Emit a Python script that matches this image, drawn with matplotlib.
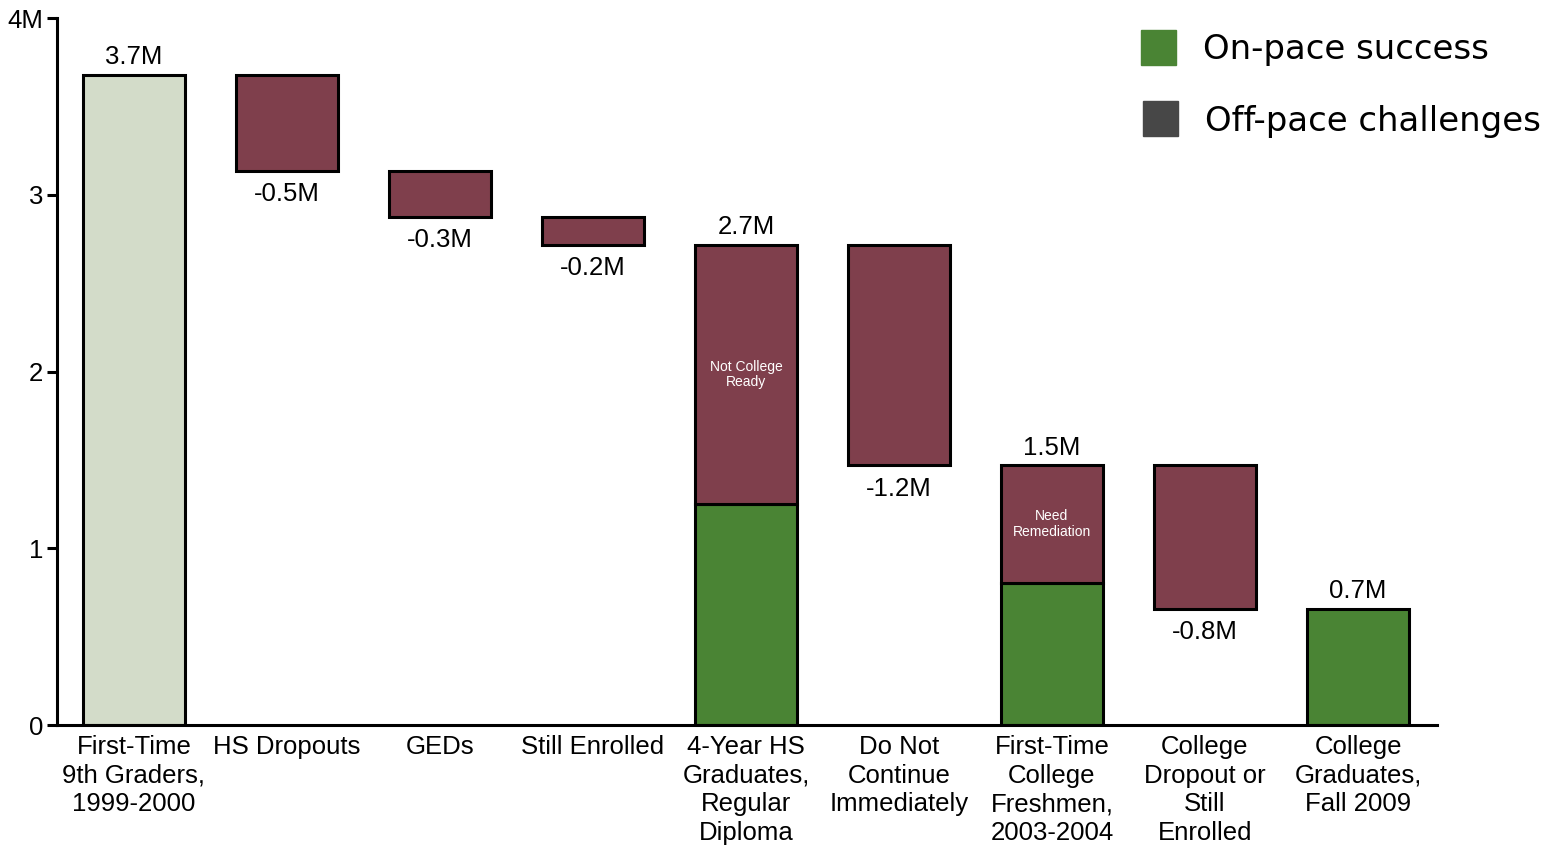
import numpy as np
import matplotlib
matplotlib.use("Agg")
import matplotlib.pyplot as plt
from matplotlib.patches import Rectangle

# students moving through the pipeline, in millions
stages = ["First-Time\n9th Graders,\n1999-2000", "HS Dropouts", "GEDs", "Still Enrolled",
          "4-Year HS\nGraduates,\nRegular\nDiploma", "Do Not\nContinue\nImmediately",
          "First-Time\nCollege\nFreshmen,\n2003-2004", "College\nDropout or\nStill\nEnrolled",
          "College\nGraduates,\nFall 2009"]
kind = ["total", "drop", "drop", "drop", "total", "drop", "total", "drop", "total"]
amounts = [3.68, -0.543, -0.261, -0.159, 2.717, -1.248, 1.469, -0.811, 0.658]
on_pace = [0, 0, 0, 0, 1.248, 0, 0.805, 0, 0.658]
value_text = ["3.7M", "-0.5M", "-0.3M", "-0.2M", "2.7M", "-1.2M", "1.5M", "-0.8M", "0.7M"]
inner_notes = {4: "Not College\nReady", 6: "Need\nRemediation"}

c_start = "#d3dcc9"
c_off = "#7f3f4c"
c_on = "#4a8434"
c_legend_off = "#474747"

plt.rcParams["font.family"] = ["Liberation Sans", "DejaVu Sans"]

fig = plt.figure(figsize=(15.56, 8.51), dpi=100)
ax = fig.add_axes([0.0366, 0.148, 0.8869, 0.8308])

x = np.arange(len(stages))
w = 0.667
lw = 2.2
level = 0.0
for i in range(len(stages)):
    if kind[i] == "total":
        level = amounts[i]
        if i == 0:
            ax.bar(x[i], level, w, color=c_start, edgecolor="black", linewidth=lw)
        else:
            g = on_pace[i]
            if g > 0:
                ax.bar(x[i], g, w, color=c_on, edgecolor="black", linewidth=lw)
            if level - g > 1e-6:
                ax.bar(x[i], level - g, w, bottom=g, color=c_off, edgecolor="black", linewidth=lw)
                if i in inner_notes:
                    ax.text(x[i], g + (level - g) / 2, inner_notes[i], ha="center", va="center",
                            color="white", fontsize=10, linespacing=1.15)
        ax.annotate(value_text[i], (x[i], level), xytext=(0, 4), textcoords="offset points",
                    ha="center", va="bottom", fontsize=18.5)
    else:
        new = level + amounts[i]
        ax.bar(x[i], -amounts[i], w, bottom=new, color=c_off, edgecolor="black", linewidth=lw)
        ax.annotate(value_text[i], (x[i], new), xytext=(0, -8), textcoords="offset points",
                    ha="center", va="top", fontsize=18.5)
        level = new

ax.set_xlim(-0.503, 8.516)
ax.set_ylim(0, 4)
ax.set_yticks([0, 1, 2, 3, 4])
ax.set_yticklabels(["0", "1", "2", "3", "4M"], fontsize=18.5)
ax.set_xticks(x)
ax.set_xticklabels(stages, fontsize=18.5, linespacing=1.25)
ax.tick_params(axis="x", length=0, pad=7)
ax.tick_params(axis="y", length=7, width=2.2, pad=3)
for s in ["top", "right"]:
    ax.spines[s].set_visible(False)
for s in ["left", "bottom"]:
    ax.spines[s].set_linewidth(2.2)

# legend built by hand
fw, fh = 1556, 851
for (px, py, col, txt) in [(1141, 30, c_on, "On-pace success"),
                           (1143, 101, c_legend_off, "Off-pace challenges")]:
    fig.patches.append(Rectangle((px / fw, 1 - (py + 35) / fh), 35 / fw, 35 / fh,
                                 transform=fig.transFigure, color=col))
    fig.text((px + 62) / fw, 1 - (py + 20) / fh, txt, fontsize=24.5, family="DejaVu Sans",
             ha="left", va="center")

fig.savefig("out.png", dpi=100)
